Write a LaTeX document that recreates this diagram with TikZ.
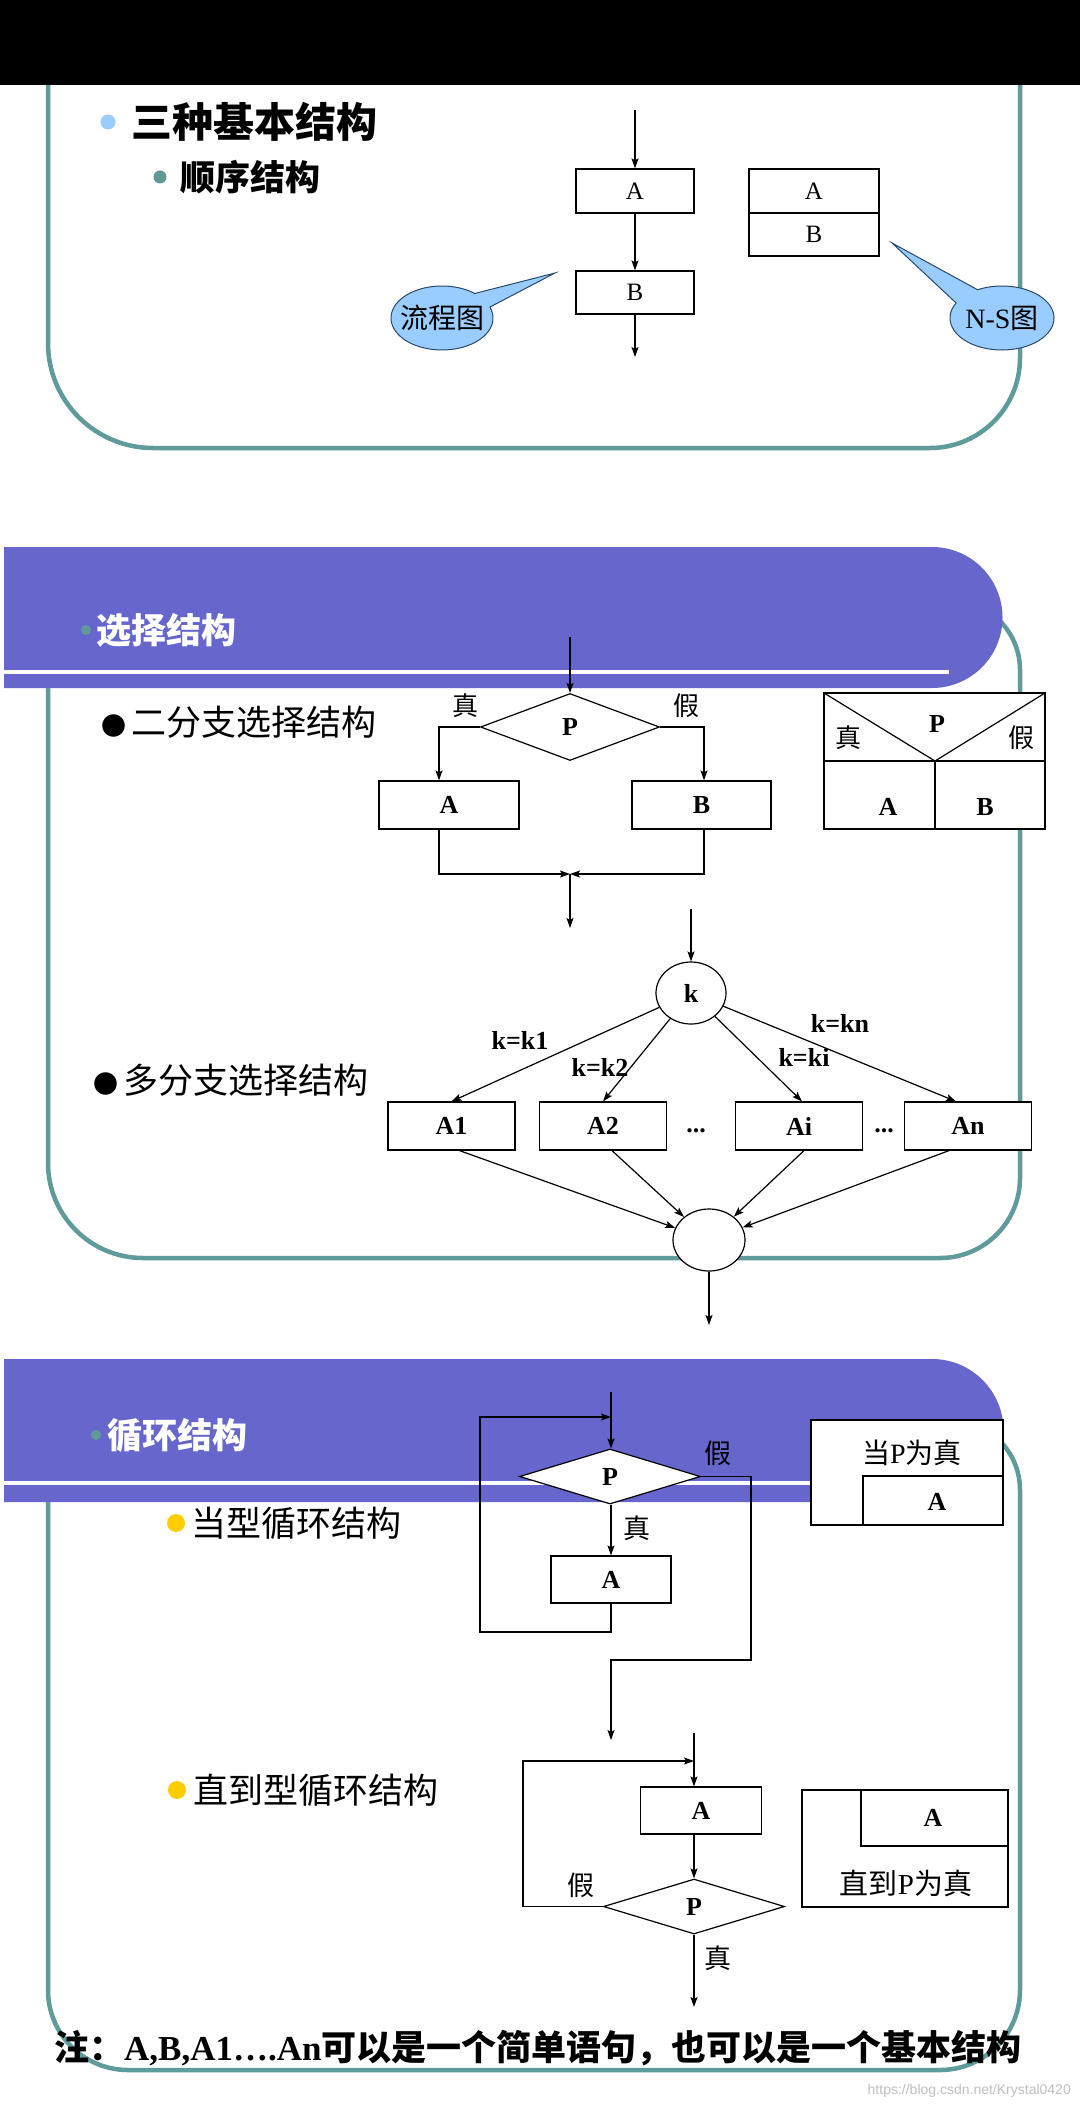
\documentclass[tikz,border=0pt]{standalone}
\usepackage{fontspec}
\setmainfont{Liberation Serif}
\newfontfamily\cjk{Noto Sans CJK SC}
\newfontfamily\wmfont{Liberation Sans}
\usetikzlibrary{shapes.geometric,arrows.meta,calc}
\definecolor{teal1}{HTML}{5F9B9B}
\definecolor{banner}{HTML}{6666CC}
\definecolor{lblue}{HTML}{99CCFF}
\definecolor{tealdot}{HTML}{5F9A96}
\definecolor{ybullet}{HTML}{FFCC00}
\definecolor{calloutline}{HTML}{2A4A6A}
\newcommand{\fsz}[1]{\fontsize{#1}{#1}\selectfont}
\newcommand{\blackdot}{\makebox[35pt][c]{\fsz{25}●}}
\begin{document}
\begin{tikzpicture}[x=1pt,y=-1pt,
  tframe/.style={draw=teal1, line width=4.5pt},
  fl/.style={draw=black, line width=1.2pt},
  arr/.style={fl, -{Stealth[length=10pt,width=7pt,inset=2pt]}},
  pbox/.style={rectangle, draw=black, line width=1.2pt, fill=white, inner sep=0pt},
  dia/.style={diamond, draw=black, line width=1.2pt, fill=white, inner sep=0pt},
  oval/.style={ellipse, draw=black, line width=1.2pt, fill=white, inner sep=0pt},
  lab/.style={font=\fsz{26}\bfseries},
  cj/.style={inner sep=0pt, font=\cjk\fsz{27}},
  heading/.style={anchor=west, inner sep=0pt, font=\cjk\bfseries\fsz{35}},
  bodytext/.style={anchor=west, inner sep=0pt, font=\cjk\fsz{35}},
  callout/.style={fill=lblue, draw=calloutline, line width=1pt}
]
\fill[white] (0,0) rectangle (1080,2108);
\useasboundingbox (0,0) rectangle (1080,2108);

% ---------- frames ----------
\draw[tframe] (48,80) -- (48,343) arc[start angle=180,end angle=90,radius=105]
  -- (930,448) arc[start angle=90,end angle=0,radius=90] -- (1020,80);
\fill[black] (0,0) rectangle (1080,85);

\draw[tframe] (48,640) -- (48,1163) arc[start angle=180,end angle=90,radius=95]
  -- (940,1258) arc[start angle=90,end angle=0,radius=80] -- (1020,670)
  arc[start angle=0,end angle=-90,radius=70] -- (900,600);

\draw[tframe] (48,1450) -- (48,1990) arc[start angle=180,end angle=90,radius=80]
  -- (940,2070) arc[start angle=90,end angle=0,radius=80] -- (1020,1490)
  arc[start angle=0,end angle=-90,radius=70] -- (900,1420);

% ---------- banners ----------
\fill[banner] (4,547) -- (932,547) arc[start angle=-90,end angle=90,radius=70.5] -- (4,688) -- cycle;
\draw[white, line width=4pt] (4,672) -- (949,672);
\fill[banner] (4,1359) -- (932,1359) arc[start angle=-90,end angle=90,radius=71.5] -- (4,1502) -- cycle;
\draw[white, line width=4pt] (4,1483) -- (949,1483);

% ---------- section 1 ----------
\fill[lblue] (108,122) circle (7.5);
\node[heading, font=\cjk\bfseries\fsz{41}] (h1) at (131,122) {三种基本结构};
\fill[tealdot] (160,177) circle (6.5);
\node[heading] (h2) at (180,177) {顺序结构};

\coordinate (sin) at (635,110);
\coordinate (sout) at (635,357);
\node[pbox, minimum width=118, minimum height=44, font=\fsz{25}] (sA) at (635,191) {A};
\node[pbox, minimum width=118, minimum height=43, font=\fsz{25}] (sB) at (635,292.5) {B};
\draw[arr] (sin) -- (sA);
\draw[arr] (sA) -- (sB);
\draw[arr] (sB) -- (sout);

\node[pbox, minimum width=130, minimum height=44, font=\fsz{25}] (nA) at (814,191) {A};
\node[pbox, minimum width=130, minimum height=43, font=\fsz{25}] (nB) at (814,234.5) {B};

\filldraw[callout] ($(442,318)+(-50:51 and 32)$) -- (555,273) -- ($(442,318)+(-20:51 and 32)$)
  arc[start angle=-20,end angle=310,x radius=51,y radius=32] -- cycle;
\node[inner sep=0pt, font=\cjk\fsz{28}] (cl1) at (442,318) {流程图};
\filldraw[callout] ($(1002,318)+(-118:52 and 32)$) -- (892,243) -- ($(1002,318)+(-152:52 and 32)$)
  arc[start angle=-152,end angle=-478,x radius=52,y radius=32] -- cycle;
\node[inner sep=0pt, font=\fsz{28}] (cl2) at (1002,318) {N-S{\cjk 图}};

% ---------- section 2 ----------
\fill[tealdot] (86,630) circle (5);
\node[heading, text=white] (h3) at (96,630) {选择结构};

\node[bodytext] (t1) at (96,722) {\blackdot 二分支选择结构};
\coordinate (bin) at (570,637);
\node[dia, minimum width=179, minimum height=67, lab] (D1) at (570,727) {P};
\node[pbox, minimum width=140, minimum height=48, lab] (bA) at (449,805) {A};
\node[pbox, minimum width=139, minimum height=48, lab] (bB) at (701.5,805) {B};
\coordinate (mrg) at (570,874);
\coordinate (bout) at (570,928);
\draw[arr] (bin) -- (D1);
\draw[arr] (D1.west) -| ([xshift=-10pt]bA.north);
\draw[arr] (D1.east) -| ([xshift=2.5pt]bB.north);
\draw[arr] ([xshift=-10pt]bA.south) |- (mrg);
\draw[arr] ([xshift=2.5pt]bB.south) |- (mrg);
\draw[arr] (mrg) -- (bout);
\node[cj, font=\cjk\fsz{26}] (tT1) at (465,706) {真};
\node[cj, font=\cjk\fsz{26}] (tF1) at (686,706) {假};

\draw[fl, fill=white] (824,693) rectangle (1045,829);
\draw[fl] (824,761) -- (1045,761);
\draw[fl] (824,693) -- (935,761) -- (1045,693);
\draw[fl] (935,761) -- (935,829);
\node[lab] (nsP) at (937,724) {P};
\node[cj, font=\cjk\fsz{26}] (nsT) at (848,738) {真};
\node[cj, font=\cjk\fsz{26}] (nsF) at (1021,738) {假};
\node[lab] (nsA2) at (888,807) {A};
\node[lab] (nsB2) at (985,807) {B};

% multi-branch
\node[bodytext] (t2) at (88,1080) {\blackdot 多分支选择结构};
\coordinate (kin) at (691,909);
\node[oval, minimum width=70, minimum height=62, lab] (k) at (691,993) {k};
\node[pbox, minimum width=127, minimum height=48, lab] (A1) at (451.5,1126) {A1};
\node[pbox, minimum width=127, minimum height=48, lab] (A2) at (603,1126) {A2};
\node[pbox, minimum width=127, minimum height=48, lab] (Ai) at (799,1126) {Ai};
\node[pbox, minimum width=127, minimum height=48, lab] (An) at (968,1126) {An};
\node[lab, inner sep=0pt] (dots1) at (696,1131) {...};
\node[lab, inner sep=0pt] (dots2) at (884,1131) {...};
\node[oval, minimum width=72, minimum height=62] (m) at (709,1240) {};
\coordinate (mout) at (709,1325);
\draw[arr] (kin) -- (k);
\draw[arr] (k) -- (A1.north);
\draw[arr] (k) -- (A2.north);
\draw[arr] (k) -- ([xshift=3pt]Ai.north);
\draw[arr] (k) -- ([xshift=-12pt]An.north);
\draw[arr] ([xshift=8pt]A1.south) -- (m);
\draw[arr] ([xshift=9pt]A2.south) -- (m);
\draw[arr] ([xshift=5pt]Ai.south) -- (m);
\draw[arr] ([xshift=-19pt]An.south) -- (m);
\draw[arr] (m) -- (mout);
\node[lab, inner sep=0pt] (lk1) at (520,1040) {k=k1};
\node[lab, inner sep=0pt] (lk2) at (600,1067) {k=k2};
\node[lab, inner sep=0pt] (lki) at (804,1057) {k=ki};
\node[lab, inner sep=0pt] (lkn) at (840,1023) {k=kn};

% ---------- section 3 ----------
\fill[tealdot] (96,1435) circle (5);
\node[heading, text=white] (h4) at (107,1435) {循环结构};

\fill[ybullet] (176,1523) circle (9);
\node[bodytext] (t3) at (191,1523) {当型循环结构};
\coordinate (win) at (611,1392);
\node[dia, minimum width=181, minimum height=55, lab] (D2) at (610,1476.5) {P};
\node[pbox, minimum width=120, minimum height=47, lab] (wA) at (611,1579.5) {A};
\coordinate (wl1) at (480,1632);
\coordinate (wl2) at (611,1417);
\coordinate (wf1) at (751,1660);
\coordinate (wf2) at (611,1660);
\coordinate (wout) at (611,1740);
\draw[arr] (win) -- (win |- D2.north);
\draw[arr] (D2.south -| win) -- (wA);
\draw[arr] (wA.south) |- (wl1) |- (wl2);
\draw[arr] (D2.east) -| (wf1) -- (wf2) -- (wout);
\node[cj] (wF) at (718,1453) {假};
\node[cj] (wT) at (637,1528) {真};

\draw[fl, fill=white] (811,1420) rectangle (1003,1525);
\draw[fl] (863,1525) |- (1003,1476);
\node[inner sep=0pt, font=\fsz{28}] (nsW) at (912,1453) {{\cjk 当}P{\cjk 为真}};
\node[lab] (nsWA) at (937,1502) {A};

\fill[ybullet] (177,1790) circle (9);
\node[bodytext] (t4) at (193,1790) {直到型循环结构};
\coordinate (uin) at (694,1733);
\node[pbox, minimum width=121, minimum height=47, lab] (uA) at (701,1810.5) {A};
\node[dia, minimum width=181, minimum height=55, lab] (D3) at (694,1906.5) {P};
\coordinate (ul) at (523,1761);
\coordinate (uout) at (694,2007);
\draw[arr] (uin) -- (uin |- uA.north);
\draw[arr] (uA.south -| uin) -- (D3.north);
\draw[arr] (D3.west) -| (ul) -- (ul -| uin);
\draw[arr] (D3.south) -- (uout);
\node[cj] (uF) at (581,1885) {假};
\node[cj] (uT) at (718,1958) {真};

\draw[fl, fill=white] (802,1790) rectangle (1008,1907);
\draw[fl] (861,1790) |- (1008,1846);
\node[lab] (nsUA) at (933,1818) {A};
\node[inner sep=0pt, font=\fsz{29}] (nsU) at (906,1883) {{\cjk 直到}P{\cjk 为真}};

% ---------- note ----------
\node[anchor=west, inner sep=0pt, font=\bfseries\fsz{35}] (note) at (54,2048)
  {{\cjk\bfseries 注：}A,B,A1….An{\cjk\bfseries 可以是一个简单语句，也可以是一个基本结构}};
\node[anchor=east, inner sep=0pt, text=black!25, font=\wmfont\fsz{14}] (wm) at (1071,2091) {https://blog.csdn.net/Krystal0420};
\end{tikzpicture}
\end{document}
